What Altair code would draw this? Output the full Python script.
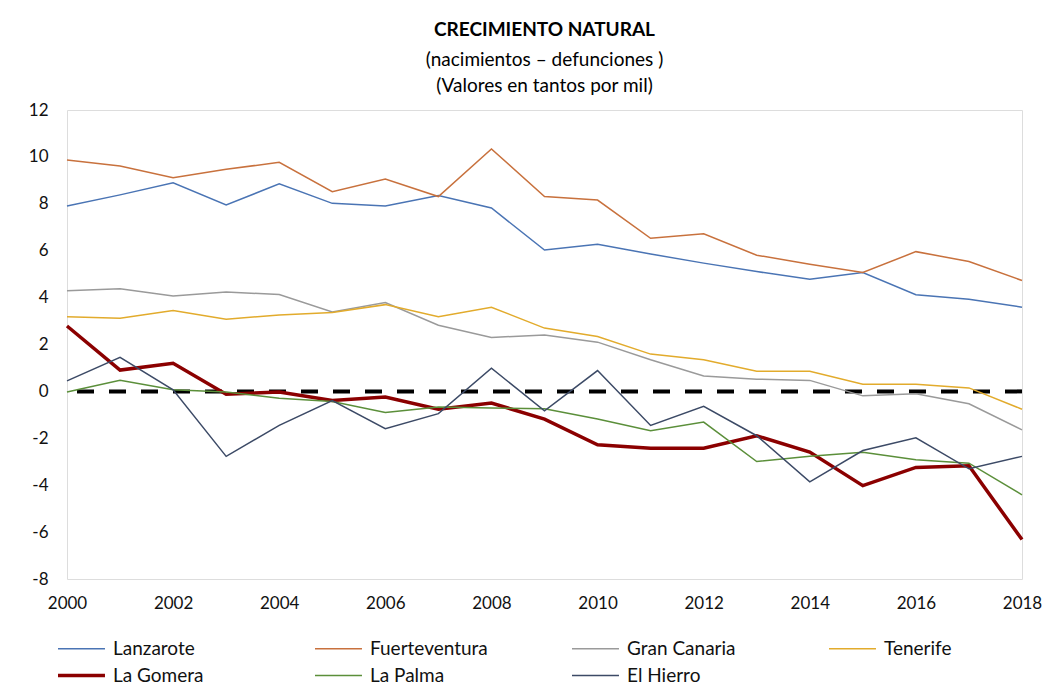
import altair as alt
import pandas as pd

years = list(range(2000, 2019))
islas = ["Lanzarote", "Fuerteventura", "Gran Canaria", "Tenerife",
         "La Gomera", "La Palma", "El Hierro"]

lanzarote = [7.91, 8.38, 8.90, 7.95, 8.85, 8.02, 7.91, 8.35, 7.82, 6.03,
             6.27, 5.86, 5.47, 5.11, 4.78, 5.07, 4.12, 3.93, 3.59]
fuerteventura = [9.87, 9.61, 9.11, 9.47, 9.77, 8.52, 9.06, 8.31, 10.34, 8.31,
                 8.16, 6.53, 6.72, 5.81, 5.42, 5.07, 5.96, 5.54, 4.73]
gran_canaria = [4.29, 4.38, 4.07, 4.24, 4.13, 3.39, 3.79, 2.82, 2.30, 2.41,
                2.10, 1.35, 0.66, 0.52, 0.47, -0.19, -0.10, -0.53, -1.64]
tenerife = [3.18, 3.12, 3.45, 3.08, 3.26, 3.36, 3.70, 3.18, 3.59, 2.70,
            2.34, 1.59, 1.35, 0.86, 0.86, 0.31, 0.30, 0.15, -0.76]
la_gomera = [2.79, 0.91, 1.20, -0.12, -0.03, -0.39, -0.24, -0.76, -0.50, -1.18,
             -2.28, -2.42, -2.42, -1.89, -2.59, -4.02, -3.24, -3.17, -6.32]
la_palma = [-0.03, 0.47, 0.07, -0.03, -0.29, -0.43, -0.90, -0.67, -0.71, -0.74,
            -1.18, -1.68, -1.31, -2.99, -2.77, -2.59, -2.91, -3.06, -4.41]
el_hierro = [0.45, 1.45, 0.07, -2.77, -1.45, -0.39, -1.59, -0.95, 0.99, -0.83,
             0.89, -1.45, -0.64, -1.89, -3.86, -2.52, -1.98, -3.30, -2.77]

series = [lanzarote, fuerteventura, gran_canaria, tenerife, la_gomera, la_palma, el_hierro]
colores = ["#4a74b4", "#c8713d", "#9a9a9a", "#e2ab2c", "#8b0000", "#5b8f3a", "#3c4a66"]
grosores = [1.5, 1.5, 1.5, 1.5, 3.5, 1.5, 1.5]

x_ticks = list(range(2000, 2019, 2))
y_ticks = list(range(-8, 13, 2))

rows = []
for isla, vals in zip(islas, series):
    for yr, v in zip(years, vals):
        rows.append({"isla": isla, "año": yr, "valor": v})
df = pd.DataFrame(rows)

FONT = "Lato"
TXT = "#111111"

yscale = alt.Scale(domain=[-8, 12], nice=False, zero=False)
xscale = alt.Scale(domain=[2000, 2018], nice=False, zero=False)

leg = dict(
    title=None, orient="none", legendX=-14, legendY=529,
    direction="horizontal", columns=4, gridAlign="all",
    columnPadding=79, rowPadding=7, padding=0,
    symbolType="M-1,0H9.44", symbolSize=81, labelOffset=41,
    labelFontSize=19, labelFont=FONT, labelColor=TXT,
)

zero = alt.Chart(pd.DataFrame({"v": [0]})).mark_rule(
    color="black", strokeWidth=4, strokeDash=[17, 15]
).encode(y=alt.Y("v:Q", scale=yscale))

lines = alt.Chart(df).mark_line().encode(
    x=alt.X("año:Q", scale=xscale,
            axis=alt.Axis(values=x_ticks, format="d", title=None, grid=False,
                          ticks=False, domain=False, labelFontSize=17,
                          labelFont=FONT, labelColor=TXT, labelPadding=16,
                          labelFlush=False)),
    y=alt.Y("valor:Q", scale=yscale,
            axis=alt.Axis(values=y_ticks, title=None, grid=False, ticks=False,
                          domain=False, labelFontSize=17, labelFont=FONT,
                          labelColor=TXT, labelPadding=19, labelFlush=False,
                          labelExpr="'' + datum.value")),
    color=alt.Color("isla:N", scale=alt.Scale(domain=islas, range=colores),
                    legend=alt.Legend(**leg)),
    strokeWidth=alt.StrokeWidth("isla:N",
                                scale=alt.Scale(type="ordinal", domain=islas, range=grosores),
                                legend=alt.Legend(**leg)),
)

chart = alt.layer(zero, lines).properties(
    width=955, height=469,
    autosize=alt.AutoSizeParams(type="none"),
    padding={"left": 59, "top": 102, "right": 30, "bottom": 111},
    title=alt.TitleParams(
        text="CRECIMIENTO NATURAL",
        subtitle=["(nacimientos – defunciones )", "(Valores en tantos por mil)"],
        font=FONT, fontSize=19, fontWeight="bold", color="black",
        subtitleFont=FONT, subtitleFontSize=19, subtitleColor="black",
        subtitlePadding=11, subtitleLineHeight=26, anchor="middle", offset=5,
    ),
).configure_view(stroke="#868686", strokeWidth=1.5).configure(background="white")

chart.save("out.html", embed_options={"renderer": "svg", "actions": False})
